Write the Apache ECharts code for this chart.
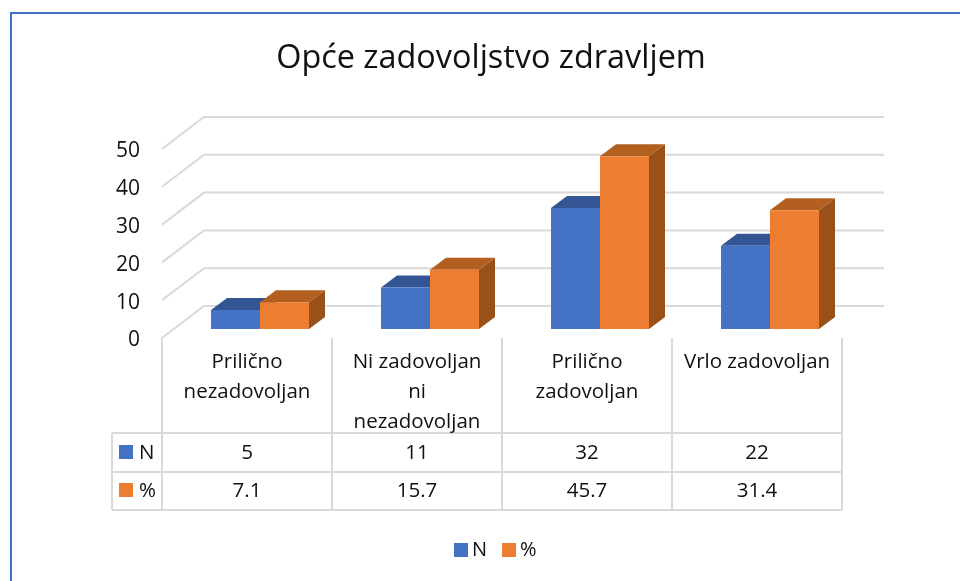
<!DOCTYPE html>
<html>
<head>
<meta charset="utf-8">
<title>Opće zadovoljstvo zdravljem</title>
<script src="https://cdn.jsdelivr.net/npm/echarts@6/dist/echarts.min.js"></script>
<style>
  html, body { margin: 0; padding: 0; background: #fff; }
  #chart { width: 960px; height: 581px; }
</style>
</head>
<body>
<div id="chart"></div>
<script>
const categories = ["Prilično\nnezadovoljan", "Ni zadovoljan\nni\nnezadovoljan", "Prilično\nzadovoljan", "Vrlo zadovoljan"];
const valuesN = [5, 11, 32, 22];
const valuesPct = [7.1, 15.7, 45.7, 31.4];
const yTicks = [0, 10, 20, 30, 40, 50];

const FONT = "'Open Sans', sans-serif";
const TEXT = "#111";
const LINE = "#d9d9d9";

var myChart = echarts.init(document.getElementById("chart"));

// back wall lines, the wall sits up and to the right of the front plane
function renderGridLine(params, api) {
  const y = api.coord([0, api.value(0)])[1];
  const x0 = params.coordSys.x;
  return {
    type: "polyline",
    silent: true,
    shape: { points: [[x0, y], [x0 + 42, y - 32], [884, y - 32]] },
    style: { stroke: LINE, lineWidth: 2, fill: null },
  };
}

// 3D looking bar plus its cell in the data table under the chart
function makeBarRenderer(side, front, top, right, rowY) {
  return function (params, api) {
    const i = api.value(0);
    const v = api.value(1);
    const base = api.coord([i, 0]);
    const head = api.coord([i, v]);
    const w = 49;
    const x = base[0] + 13 + (side === 0 ? -w : 0);
    const y0 = base[1] - 9;
    const y1 = head[1] - 9;
    const dx = 16;
    const dy = 12;
    return {
      type: "group",
      children: [
        {
          type: "polygon",
          shape: { points: [[x + w, y0], [x + w + dx, y0 - dy], [x + w + dx, y1 - dy], [x + w, y1]] },
          style: { fill: right },
        },
        {
          type: "polygon",
          shape: { points: [[x, y1], [x + dx, y1 - dy], [x + w + dx, y1 - dy], [x + w, y1]] },
          style: { fill: top },
        },
        {
          type: "rect",
          shape: { x: x, y: y1, width: w, height: y0 - y1 },
          style: { fill: front },
        },
        {
          type: "text",
          style: {
            x: base[0],
            y: rowY + 1,
            text: String(v),
            font: "20.5px " + FONT,
            fill: TEXT,
            align: "center",
            verticalAlign: "middle",
          },
        },
      ],
    };
  };
}

// table frame
const columnX = [162, 332, 502, 672, 842];
const frame = [];
function frameLine(x1, y1, x2, y2) {
  frame.push({
    type: "line",
    silent: true,
    shape: { x1: x1, y1: y1, x2: x2, y2: y2 },
    style: { stroke: LINE, lineWidth: 2 },
  });
}
columnX.forEach((x) => frameLine(x, 338, x, 510));
[433, 472, 510].forEach((y) => frameLine(112, y, 842, y));
frameLine(112, 433, 112, 510);

// table row keys
function rowKey(y, color, label) {
  frame.push({ type: "rect", silent: true, shape: { x: 119, y: y - 7, width: 14, height: 14 }, style: { fill: color } });
  frame.push({
    type: "text",
    silent: true,
    style: { x: 139, y: y + 1, text: label, font: "20.5px " + FONT, fill: TEXT, verticalAlign: "middle" },
  });
}
rowKey(452, "#4472c4", "N");
rowKey(490, "#ed7d31", "%");

// page border
frame.push({ type: "rect", silent: true, shape: { x: 10, y: 12, width: 950, height: 2 }, style: { fill: "#4472c4" } });
frame.push({ type: "rect", silent: true, shape: { x: 10, y: 12, width: 2, height: 569 }, style: { fill: "#4472c4" } });

myChart.setOption({
  animation: false,
  backgroundColor: "#fff",
  title: {
    text: "Opće zadovoljstvo zdravljem",
    left: 486,
    top: 38,
    textAlign: "center",
    textStyle: { fontFamily: FONT, fontSize: 32.4, fontWeight: "normal", color: TEXT },
  },
  legend: {
    data: ["N", "%"],
    left: 449,
    top: 535,
    icon: "rect",
    itemWidth: 14,
    itemHeight: 14,
    itemGap: 15,
    textStyle: { fontFamily: FONT, fontSize: 20, color: TEXT, padding: [0, 0, 0, -1] },
  },
  grid: { left: 162, right: 118, top: 149, bottom: 243 },
  xAxis: {
    type: "category",
    data: categories,
    axisLine: { show: false },
    axisTick: { show: false },
    splitLine: { show: false },
    axisLabel: {
      interval: 0,
      margin: 9,
      fontFamily: FONT,
      fontSize: 20.5,
      lineHeight: 30,
      color: TEXT,
      verticalAlign: "top",
    },
  },
  yAxis: {
    type: "value",
    min: 0,
    max: 50,
    interval: 10,
    axisLine: { show: false },
    axisTick: { show: false },
    splitLine: { show: false },
    axisLabel: {
      margin: 22,
      formatter: "{t|{value}}",
      rich: { t: { fontFamily: FONT, fontSize: 21, color: TEXT, padding: [5, 0, 0, 0] } },
    },
  },
  graphic: frame,
  series: [
    {
      name: "grid",
      type: "custom",
      z: 1,
      silent: true,
      clip: false,
      renderItem: renderGridLine,
      encode: { y: 0 },
      data: yTicks.map((t) => [t]),
    },
    {
      name: "N",
      type: "custom",
      z: 2,
      clip: false,
      itemStyle: { color: "#4472c4" },
      renderItem: makeBarRenderer(0, "#4472c4", "#335593", "#335593", 452),
      encode: { x: 0, y: 1 },
      data: valuesN.map((v, i) => [i, v]),
    },
    {
      name: "%",
      type: "custom",
      z: 3,
      clip: false,
      itemStyle: { color: "#ed7d31" },
      renderItem: makeBarRenderer(1, "#ed7d31", "#b25f1f", "#9a5019", 490),
      encode: { x: 0, y: 1 },
      data: valuesPct.map((v, i) => [i, v]),
    },
  ],
});
</script>
</body>
</html>
